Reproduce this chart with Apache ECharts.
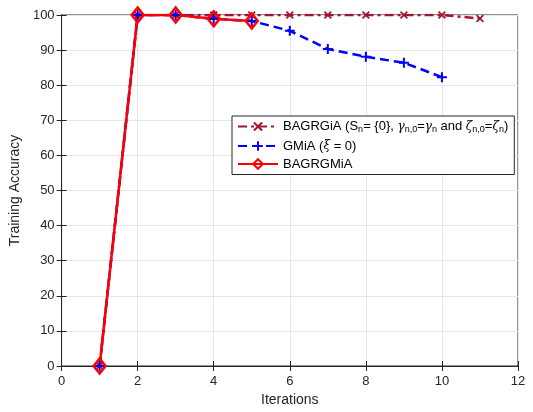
<!DOCTYPE html>
<html><head><meta charset="utf-8">
<script src="https://cdn.jsdelivr.net/npm/echarts@6/dist/echarts.min.js"></script>
<style>html,body{margin:0;padding:0;background:#fff}#c{width:533px;height:412px}</style>
</head><body><div id="c"></div>
<script>
const iterations = [1,2,3,4,5,6,7,8,9,10,11];
const bagrgia = [0,100,100,100,100,100,100,100,100,100,99];
const gmia = [0,100,100,98.9,98.3,95.5,90.3,88.1,86.4,82.3];
const bagrgmia = [0,100,100,98.9,98.3];
const xTicks = [0,2,4,6,8,10,12];

const chart = echarts.init(document.getElementById('c'));
const F = 'Liberation Sans, Arial, Helvetica, sans-serif';
const plus = 'path://M4,0h2v4h4v2h-4v4h-2v-4h-4v-2h4z';
const cross = 'path://M1.5,0L5,3.5L8.5,0L10,1.5L6.5,5L10,8.5L8.5,10L5,6.5L1.5,10L0,8.5L3.5,5L0,1.5z';
function pairs(ys){return ys.map((v,i)=>[iterations[i],v]);}
const labels = {
  'BAGRGiA':'{t|BAGRGiA (S}{s|n}{t|= }{0}{t|, }{g|γ}{s|n,0}{t|=}{g|γ}{s|n}{t| and }{g|ζ}{s|n,0}{t|=}{g|ζ}{s|n}{t|)}',
  'GMiA':'{t|GMiA (}{g|ξ}{t| = 0)}',
  'BAGRGMiA':'{t|BAGRGMiA}'
};
chart.setOption({
  animation:false,
  grid:{left:58,right:15,top:15,bottom:46,show:true,borderColor:'#262626',borderWidth:1},
  legend:{
    orient:'vertical', left:232, top:116, width:290,
    backgroundColor:'#fff', borderColor:'#262626', borderWidth:1,
    padding:[4,6,4,5], itemGap:5, itemWidth:40, itemHeight:12,
    data:['BAGRGiA','GMiA','BAGRGMiA'],
    formatter:n=>labels[n],
    textStyle:{fontFamily:F,fontSize:13,color:'#000',
      rich:{t:{fontFamily:F,fontSize:13,color:'#000'},
            s:{fontFamily:F,fontSize:9,color:'#000',padding:[7,0,0,0]},
            g:{fontFamily:'DejaVu Serif, serif',fontStyle:'italic',fontSize:12,color:'#000'}}}
  },
  xAxis:[{type:'value',min:0,max:12,interval:2,
    name:'Iterations',nameLocation:'middle',nameGap:27,
    nameTextStyle:{fontFamily:F,fontSize:14,color:'#262626'},
    axisLine:{show:true,lineStyle:{color:'#262626'}},
    axisTick:{inside:true,length:5,lineStyle:{color:'#262626'}},
    axisLabel:{fontFamily:F,fontSize:13,color:'#262626',margin:9},
    splitLine:{show:true,lineStyle:{color:'#e6e6e6'}}},
   {type:'value',min:0,max:12,interval:2,position:'top',
    axisLine:{show:true,lineStyle:{color:'#262626'}},
    axisTick:{inside:true,length:5,lineStyle:{color:'#262626'}},
    axisLabel:{show:false},splitLine:{show:false}}],
  yAxis:[{type:'value',min:0,max:100,interval:10,
    name:'Training Accuracy',nameLocation:'middle',nameGap:36,
    nameTextStyle:{fontFamily:F,fontSize:14,color:'#262626'},
    axisLine:{show:true,lineStyle:{color:'#262626'}},
    axisTick:{inside:true,length:5,lineStyle:{color:'#262626'}},
    axisLabel:{fontFamily:F,fontSize:13,color:'#262626',margin:7},
    splitLine:{show:true,lineStyle:{color:'#e6e6e6'}}},
   {type:'value',min:0,max:100,interval:10,position:'right',
    axisLine:{show:true,lineStyle:{color:'#262626'}},
    axisTick:{inside:true,length:5,lineStyle:{color:'#262626'}},
    axisLabel:{show:false},splitLine:{show:false}}],
  series:[
    {name:'BAGRGiA',type:'line',data:pairs(bagrgia),symbol:cross,symbolSize:8,
     lineStyle:{color:'#A2142F',width:2.5,type:[9,4,3,4]},itemStyle:{color:'#A2142F'}},
    {name:'GMiA',type:'line',data:pairs(gmia),symbol:plus,symbolSize:10,
     lineStyle:{color:'#0000ff',width:2.5,type:[9,5]},itemStyle:{color:'#0000ff'}},
    {name:'BAGRGMiA',type:'line',data:pairs(bagrgmia),symbol:'diamond',symbolSize:[12,15],
     lineStyle:{color:'#ff0000',width:2.5},itemStyle:{color:'rgba(255,255,255,0)',borderColor:'#ff0000',borderWidth:2.5}}
  ]
});
</script></body></html>
